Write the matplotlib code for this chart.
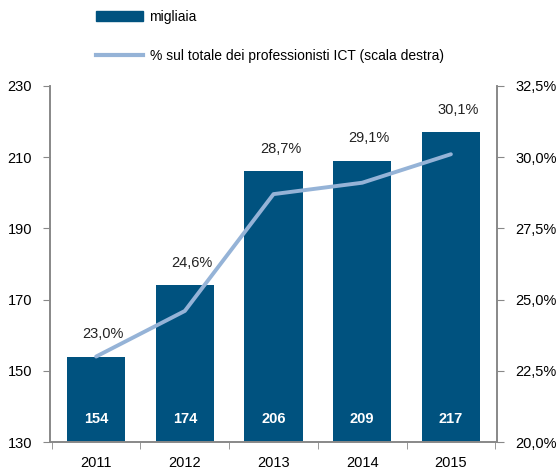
import matplotlib.pyplot as plt
from matplotlib.patches import Rectangle
from matplotlib.lines import Line2D

plt.rcParams['font.family'] = ['Liberation Sans', 'DejaVu Sans']

years = ["2011", "2012", "2013", "2014", "2015"]
migliaia = [154, 174, 206, 209, 217]
quota = [23.0, 24.6, 28.7, 29.1, 30.1]

bar_color = "#00527F"
line_color = "#95B3D7"
axis_color = "#888888"

fig = plt.figure(figsize=(5.57, 4.73), dpi=100)
ax = fig.add_axes([0.0898, 0.0655, 0.8025, 0.753])
ax2 = ax.twinx()

x = range(len(years))
ax.bar(x, migliaia, width=0.66, color=bar_color, zorder=2)
ax.set_ylim(130, 230)
ax.set_yticks(range(130, 231, 20))
ax.set_xlim(-0.52, 4.52)

# valori delle barre (bianco, in basso)
for i, v in zip(x, migliaia):
    ax.text(i, 134.5, str(v), ha="center", va="bottom", color="white",
            fontsize=10.5, fontweight="bold")

# quota percentuale, etichette sopra le barre
ax2.plot(x, quota, color=line_color, lw=2.8, zorder=3, solid_capstyle="round")
ax2.set_ylim(20, 32.5)
ticks_r = [20, 22.5, 25, 27.5, 30, 32.5]
ax2.set_yticks(ticks_r)
ax2.set_yticklabels([f"{t:.1f}%".replace(".", ",") for t in ticks_r])
for i, v, b in zip(x, quota, migliaia):
    ax.text(i + 0.08, b + 6.3, f"{v:.1f}%".replace(".", ","), ha="center",
            va="center", fontsize=10.5, color="#222222", zorder=4)

ax.set_xticks(list(x))
ax.set_xticklabels(years)
ax.set_xticks([-0.5, 0.5, 1.5, 2.5, 3.5, 4.5], minor=True)
ax.tick_params(axis="x", which="major", length=0, pad=10, labelsize=10.5)
ax.tick_params(axis="x", which="minor", length=5, color=axis_color, direction="out")
ax.tick_params(axis="y", length=5, color=axis_color, labelsize=10.5, pad=8)
ax2.tick_params(axis="y", length=5, color=axis_color, labelsize=10.5, pad=8)

for a in (ax, ax2):
    a.spines["top"].set_visible(False)
    for s in ("left", "right", "bottom"):
        a.spines[s].set_color(axis_color)
        a.spines[s].set_linewidth(1.2)

handles = [Rectangle((0, 0), 1, 1, color=bar_color),
           Line2D([0], [0], color=line_color, lw=3)]
fig.legend(handles, ["migliaia", "% sul totale dei professionisti ICT (scala destra)"],
           loc="upper left", bbox_to_anchor=(0.150, 1.005), frameon=False,
           fontsize=10, handlelength=3.4, labelspacing=1.8, handletextpad=0.45)

fig.savefig("out.png", dpi=100)
